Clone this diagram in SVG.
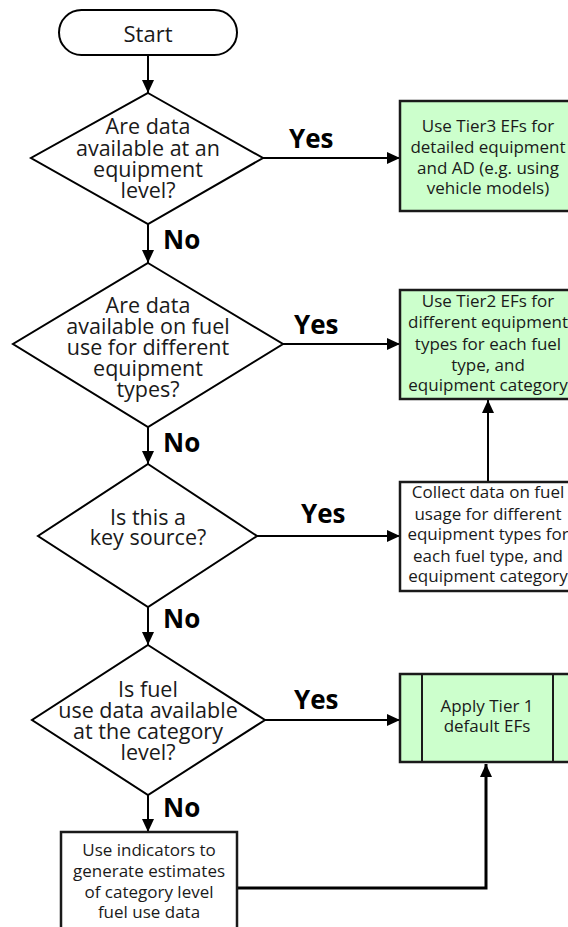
<svg xmlns="http://www.w3.org/2000/svg" width="568" height="927" viewBox="0 0 568 927">
<style>
  .shape{fill:#ffffff;stroke:#000000;stroke-width:2}
  .green{fill:#ccffcc;stroke:#1a1a1a;stroke-width:2.5}
  .box{fill:#ffffff;stroke:#1a1a1a;stroke-width:2.5}
  .t{font-family:"Open Sans","Liberation Sans",sans-serif;fill:#1a1a1a;text-anchor:middle}
  .dt{font-size:21.5px}
  .bt{font-size:17px}
  .lbl{font-family:"Open Sans","Liberation Sans",sans-serif;font-weight:bold;font-size:26px;fill:#000000}
  .conn{fill:none;stroke:#000000;stroke-width:2}
</style>
<defs>
  <marker id="arr" markerUnits="userSpaceOnUse" markerWidth="13" markerHeight="12" refX="13" refY="6" orient="auto">
    <path d="M0,0 L13,6 L0,12 z" fill="#000000"/>
  </marker>
</defs>
<g id="connectors">
  <line class="conn" x1="148" y1="55" x2="148" y2="93" marker-end="url(#arr)"/>
  <line class="conn" x1="263" y1="158" x2="400" y2="158" marker-end="url(#arr)"/>
  <line class="conn" x1="148" y1="224" x2="148" y2="263" marker-end="url(#arr)"/>
  <line class="conn" x1="283" y1="344" x2="400" y2="344" marker-end="url(#arr)"/>
  <line class="conn" x1="148" y1="427" x2="148" y2="464" marker-end="url(#arr)"/>
  <line class="conn" x1="257" y1="536" x2="400" y2="536" marker-end="url(#arr)"/>
  <line class="conn" x1="488" y1="482" x2="488" y2="400" marker-end="url(#arr)"/>
  <line class="conn" x1="148" y1="607" x2="148" y2="645" marker-end="url(#arr)"/>
  <line class="conn" x1="265" y1="720" x2="400" y2="720" marker-end="url(#arr)"/>
  <line class="conn" x1="148" y1="795" x2="148" y2="832" marker-end="url(#arr)"/>
  <polyline class="conn" style="stroke-width:3" points="237,888 486,888 486,764" marker-end="url(#arr)"/>
  <text class="lbl" x="289" y="148">Yes</text>
  <text class="lbl" x="163" y="249">No</text>
  <text class="lbl" x="294" y="334">Yes</text>
  <text class="lbl" x="163" y="452">No</text>
  <text class="lbl" x="301" y="523">Yes</text>
  <text class="lbl" x="163" y="628">No</text>
  <text class="lbl" x="294" y="709">Yes</text>
  <text class="lbl" x="163" y="817">No</text>
</g>
<g id="start">
  <rect class="shape" x="59" y="10" width="178" height="45" rx="22.5"/>
  <text class="t" x="148" y="42" style="font-size:22px">Start</text>
</g>
<g id="q1">
  <polygon class="shape" points="148,93 263,158 148,224 31,158"/>
  <text class="t dt" x="148" y="134">Are data</text>
  <text class="t dt" x="148" y="156">available at an</text>
  <text class="t dt" x="148" y="177">equipment</text>
  <text class="t dt" x="148" y="198">level?</text>
</g>
<g id="tier3">
  <rect class="green" x="400" y="101" width="176" height="110"/>
  <text class="t bt" x="488" y="132">Use Tier3 EFs for</text>
  <text class="t bt" x="488" y="153">detailed equipment</text>
  <text class="t bt" x="488" y="174">and AD (e.g. using</text>
  <text class="t bt" x="488" y="194">vehicle models)</text>
</g>
<g id="q2">
  <polygon class="shape" points="148,263 283,344 148,427 13,344"/>
  <text class="t dt" x="148" y="313">Are data</text>
  <text class="t dt" x="148" y="334">available on fuel</text>
  <text class="t dt" x="148" y="355">use for different</text>
  <text class="t dt" x="148" y="376">equipment</text>
  <text class="t dt" x="148" y="397">types?</text>
</g>
<g id="tier2">
  <rect class="green" x="400" y="290" width="176" height="109"/>
  <text class="t bt" x="488" y="307">Use Tier2 EFs for</text>
  <text class="t bt" x="488" y="328">different equipment</text>
  <text class="t bt" x="488" y="350">types for each fuel</text>
  <text class="t bt" x="488" y="371">type, and</text>
  <text class="t bt" x="488" y="391">equipment category</text>
</g>
<g id="q3">
  <polygon class="shape" points="148,464 257,536 148,607 38,536"/>
  <text class="t dt" x="148" y="525">Is this a</text>
  <text class="t dt" x="148" y="545">key source?</text>
</g>
<g id="collect">
  <rect class="box" x="400" y="482" width="176" height="109"/>
  <text class="t bt" x="488" y="498">Collect data on fuel</text>
  <text class="t bt" x="488" y="520">usage for different</text>
  <text class="t bt" x="488" y="540">equipment types for</text>
  <text class="t bt" x="488" y="562">each fuel type, and</text>
  <text class="t bt" x="488" y="582">equipment category</text>
</g>
<g id="q4">
  <polygon class="shape" points="148,645 265,720 148,795 32,720"/>
  <text class="t dt" x="148" y="697">Is fuel</text>
  <text class="t dt" x="148" y="718">use data available</text>
  <text class="t dt" x="148" y="739">at the category</text>
  <text class="t dt" x="148" y="760">level?</text>
</g>
<g id="tier1">
  <rect class="green" x="400" y="674" width="176" height="88"/>
  <line x1="422" y1="674" x2="422" y2="762" stroke="#1a1a1a" stroke-width="2"/>
  <line x1="553" y1="674" x2="553" y2="762" stroke="#1a1a1a" stroke-width="2"/>
  <text class="t bt" x="487" y="712">Apply Tier 1</text>
  <text class="t bt" x="487" y="732">default EFs</text>
</g>
<g id="indicators">
  <rect class="box" x="61" y="832" width="176" height="110"/>
  <text class="t bt" x="149" y="856">Use indicators to</text>
  <text class="t bt" x="149" y="877">generate estimates</text>
  <text class="t bt" x="149" y="898">of category level</text>
  <text class="t bt" x="149" y="918">fuel use data</text>
</g>
</svg>
